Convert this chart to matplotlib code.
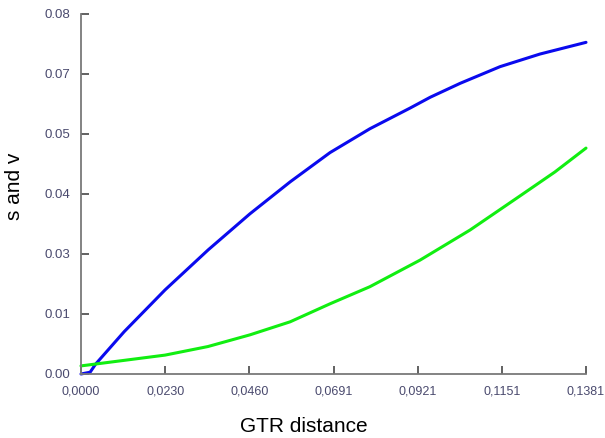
import numpy as np
import matplotlib
matplotlib.use('Agg')
import matplotlib.pyplot as plt

# values
s_x = [0.0, 0.0025, 0.0040, 0.0118, 0.0230, 0.0348, 0.0462, 0.0572, 0.0681,
       0.0790, 0.0900, 0.0955, 0.1037, 0.1146, 0.1255, 0.1381]
s_y = [0.0, 0.0004, 0.0022, 0.0094, 0.0187, 0.0276, 0.0356, 0.0427, 0.0492,
       0.0545, 0.0591, 0.0615, 0.0646, 0.0683, 0.0711, 0.0737]

v_x = [0.0, 0.0115, 0.0230, 0.0347, 0.0462, 0.0572, 0.0681, 0.0790, 0.0927,
       0.1064, 0.1201, 0.1296, 0.1381]
v_y = [0.0018, 0.0030, 0.0042, 0.0061, 0.0087, 0.0116, 0.0156, 0.0194, 0.0253,
       0.0320, 0.0396, 0.0449, 0.0502]

x_ticklabels = ['0,0000', '0,0230', '0,0460', '0,0691', '0,0921', '0,1151', '0,1381']
y_ticklabels = ['0.00', '0.01', '0.03', '0.04', '0.05', '0.07', '0.08']

plt.rcParams['font.family'] = ['Liberation Sans', 'DejaVu Sans']

fig = plt.figure(figsize=(6.05, 4.38), dpi=100)
ax = fig.add_axes([81 / 605, 64 / 438, 505 / 605, 360 / 438])

ax.plot(s_x, s_y, color='#0a0aee', lw=2.2, clip_on=False, solid_capstyle='round',
        solid_joinstyle='round')
ax.plot(v_x, v_y, color='#11ee11', lw=2.2, clip_on=False, solid_capstyle='round',
        solid_joinstyle='round')

ax.set_xlim(0, 0.1381)
ax.set_ylim(0, 0.08)
ax.set_xticks(np.linspace(0, 0.1381, len(x_ticklabels)))
ax.set_xticklabels(x_ticklabels)
ax.set_yticks(np.linspace(0, 0.08, len(y_ticklabels)))
ax.set_yticklabels(y_ticklabels)

for side in ['top', 'right']:
    ax.spines[side].set_visible(False)
for side in ['left', 'bottom']:
    ax.spines[side].set_color('#7a7a7a')
    ax.spines[side].set_linewidth(1.3)

ax.tick_params(direction='in', length=6, width=1.3, color='#555555',
               labelcolor='#4a4a6e', labelsize=9.5)
ax.tick_params(axis='x', pad=8, labelsize=9)
ax.tick_params(axis='y', pad=8)

fig.text(304 / 605, 1 - 426 / 438, 'GTR distance', fontsize=15,
         ha='center', va='center')
fig.text(14 / 605, 1 - 186 / 438, 's and v', fontsize=15, rotation=90,
         ha='center', va='center')

fig.savefig('out.png', dpi=100)
